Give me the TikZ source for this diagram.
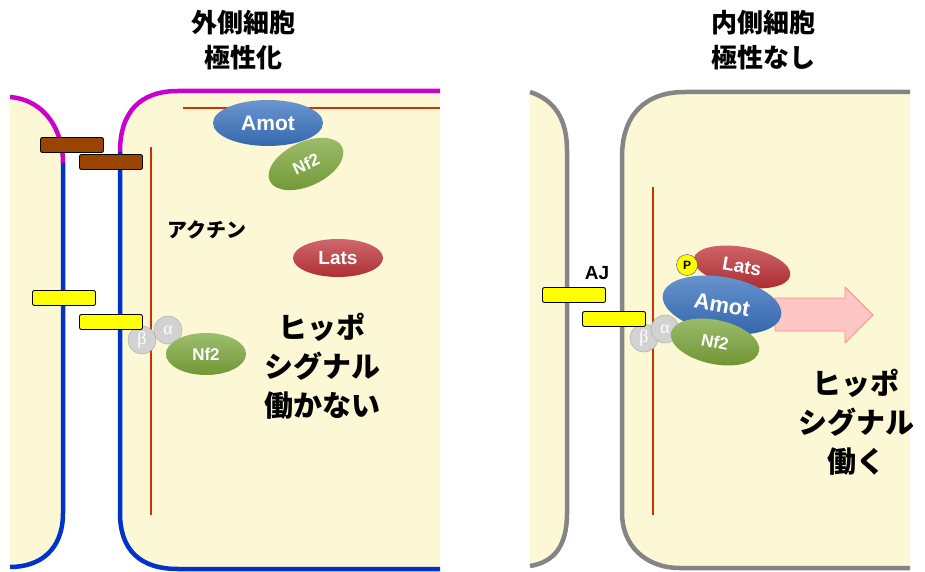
\documentclass[tikz,border=0pt]{standalone}
\usepackage{fontspec}
\setmainfont{Liberation Sans}
\newfontfamily\jpfont{Noto Sans CJK JP}
\newfontfamily\grfont{Liberation Serif}
\usetikzlibrary{shapes.geometric}

\definecolor{cellfill}{HTML}{FCF7D4}
\definecolor{apical}{HTML}{CC00CC}
\definecolor{basolat}{HTML}{0033CC}
\definecolor{memgray}{HTML}{858585}
\definecolor{actin}{HTML}{CC3300}
\definecolor{tjbrown}{HTML}{994400}
\definecolor{ajyellow}{HTML}{FFFF00}
\definecolor{amotblue}{HTML}{3A73C0}
\definecolor{nfgreen}{HTML}{7DA83C}
\definecolor{latsred}{HTML}{C0353A}
\definecolor{arrowpink}{HTML}{FFC6C6}

\begin{document}
\begin{tikzpicture}[
  x=1pt, y=-1pt,
  membrane/.style={line width=4.5pt},
  actinline/.style={draw=actin, line width=2.5pt},
  junction/.style={draw=black, line width=0.9pt, rounded corners=2pt, minimum width=63pt, minimum height=15pt, inner sep=0pt},
  protein/.style={ellipse, inner sep=0pt, text=white, font=\bfseries},
  subunit/.style={circle, draw=gray!70, fill=gray!35, text=white, minimum size=28pt, inner sep=0pt, font=\grfont\fontsize{18}{18}\selectfont},
  headline/.style={font=\jpfont\bfseries\fontsize{26}{35}\selectfont, align=center},
  signal/.style={font=\jpfont\bfseries\fontsize{29}{39}\selectfont, align=center}
]
\useasboundingbox (0,0) rectangle (925,572);

% ---------- outer cell (polarised) ----------
\fill[cellfill] (10,97) .. controls (45,100) and (63,130) .. (63,163) -- (63,513)
  .. controls (63,550) and (40,567) .. (10,567) -- cycle;
\fill[cellfill] (120,152) .. controls (120,112) and (140,91) .. (178,91) -- (440,91)
  -- (440,569) -- (178,569) .. controls (140,569) and (120,550) .. (120,513) -- cycle;
\draw[membrane, apical] (10,97) .. controls (45,100) and (63,130) .. (63,163);
\draw[membrane, basolat] (63,163) -- (63,513) .. controls (63,550) and (40,567) .. (10,567);
\draw[membrane, apical] (120,152) .. controls (120,112) and (140,91) .. (178,91) -- (440,91);
\draw[membrane, basolat] (120,152) -- (120,513) .. controls (120,550) and (140,569) .. (178,569) -- (440,569);
\draw[actinline] (151,147) -- (151,515);
\draw[actinline] (183,108) -- (440,108);

\node[subunit] (betaL) at (142,340) {β};
\node[subunit] (alphaL) at (168,330) {α};

\node[junction, fill=tjbrown] (tjA) at (72,145) {};
\node[junction, fill=tjbrown] (tjB) at (111,162) {};
\node[junction, fill=ajyellow] (ajA) at (64,298) {};
\node[junction, fill=ajyellow] (ajB) at (111,322) {};

\node[protein, top color=amotblue!75!white, bottom color=amotblue!90!black, minimum width=110pt, minimum height=46pt,
  font=\bfseries\fontsize{21}{21}\selectfont] (amotL) at (268,123) {Amot};
\node[protein, top color=nfgreen!75!white, bottom color=nfgreen!90!black, minimum width=80pt, minimum height=44pt, rotate=25,
  font=\bfseries\fontsize{17}{17}\selectfont] (nfL) at (306,164) {Nf2};
\node[protein, top color=latsred!75!white, bottom color=latsred!90!black, minimum width=90pt, minimum height=38pt,
  font=\bfseries\fontsize{19}{19}\selectfont] (latsL) at (338,258) {Lats};
\node[protein, top color=nfgreen!75!white, bottom color=nfgreen!90!black, minimum width=80pt, minimum height=42pt,
  font=\bfseries\fontsize{17}{17}\selectfont] (nfLb) at (206,354) {Nf2};

\node[font=\jpfont\bfseries\fontsize{20}{20}\selectfont] (actinL) at (207,230) {アクチン};
\node[signal] (offL) at (322,366) {ヒッポ\\シグナル\\働かない};
\node[headline] (titleL) at (243,40) {外側細胞\\極性化};

% ---------- inner cell (no polarity) ----------
\fill[cellfill] (530,92) .. controls (555,100) and (567,120) .. (567,150) -- (567,513)
  .. controls (567,545) and (555,562) .. (530,566) -- cycle;
\fill[cellfill] (622,157) .. controls (622,115) and (645,92) .. (685,92) -- (910,92)
  -- (910,568) -- (680,568) .. controls (645,568) and (622,545) .. (622,513) -- cycle;
\draw[membrane, memgray] (530,92) .. controls (555,100) and (567,120) .. (567,150) -- (567,513)
  .. controls (567,545) and (555,562) .. (530,566);
\draw[membrane, memgray] (910,92) -- (685,92) .. controls (645,92) and (622,115) .. (622,157)
  -- (622,513) .. controls (622,545) and (645,568) .. (680,568) -- (910,568);
\draw[actinline] (653,187) -- (653,515);

\node[subunit] (betaR) at (644,338) {β};
\node[subunit] (alphaR) at (665,329) {α};

\node[junction, fill=ajyellow] (ajC) at (574,295) {};
\node[junction, fill=ajyellow] (ajD) at (614,319) {};
\node[font=\bfseries\fontsize{19}{19}\selectfont] (ajlabel) at (597,273) {AJ};

% signal arrow
\draw[draw=arrowpink!70!red, fill=arrowpink, line width=0.8pt, line join=round]
  (775,298) -- (845,298) -- (845,287) -- (873,315) -- (845,343) -- (845,331) -- (775,331) -- cycle;

\node[protein, top color=latsred!75!white, bottom color=latsred!90!black, minimum width=98pt, minimum height=40pt, rotate=-10,
  font=\bfseries\fontsize{19}{19}\selectfont] (latsR) at (742,267) {Lats};
\node[protein, top color=amotblue!75!white, bottom color=amotblue!90!black, minimum width=120pt, minimum height=56pt, rotate=-10,
  font=\bfseries\fontsize{22}{22}\selectfont] (amotR) at (722,305) {Amot};
\node[protein, top color=nfgreen!75!white, bottom color=nfgreen!90!black, minimum width=90pt, minimum height=44pt, rotate=-12,
  font=\bfseries\fontsize{17}{17}\selectfont] (nfR) at (715,342) {Nf2};
\node[circle, draw=black!70, fill=ajyellow, minimum size=21pt, inner sep=0pt,
  font=\bfseries\fontsize{12}{12}\selectfont] (phos) at (687,265) {P};

\node[signal] (onR) at (856,422) {ヒッポ\\シグナル\\働く};
\node[headline] (titleR) at (763,40) {内側細胞\\極性なし};
\end{tikzpicture}
\end{document}
